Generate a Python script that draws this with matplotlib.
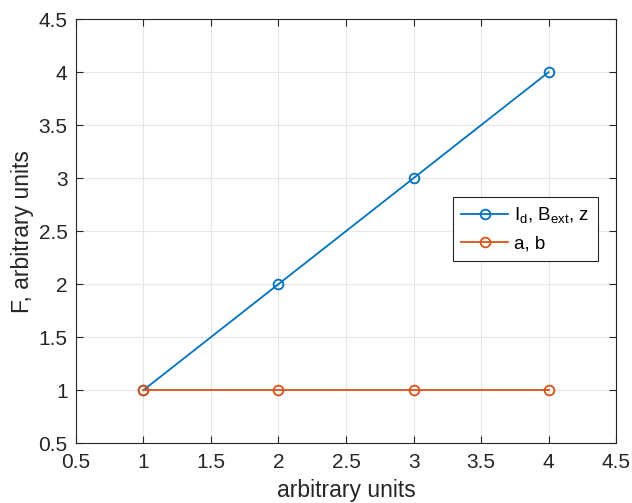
import matplotlib
matplotlib.use("Agg")
import matplotlib.pyplot as plt

x = [1, 2, 3, 4]
y_lin = [1, 2, 3, 4]
y_const = [1, 1, 1, 1]
labels = [r"I$_\mathregular{d}$, B$_\mathregular{ext}$, z", "a, b"]
ticks = [0.5, 1, 1.5, 2, 2.5, 3, 3.5, 4, 4.5]
tick_labels = ["0.5", "1", "1.5", "2", "2.5", "3", "3.5", "4", "4.5"]

plt.rcParams['font.family'] = ['Liberation Sans', 'DejaVu Sans']
plt.rcParams['mathtext.fontset'] = 'custom'
plt.rcParams['mathtext.rm'] = 'Liberation Sans'

fig = plt.figure(figsize=(6.32, 5.03), dpi=100)
ax = fig.add_axes([0.120, 0.119, 0.855, 0.843])

ax.plot(x, y_lin, '-o', color='#0072BD', lw=1.3, ms=7, mfc='none', mew=1.3, label=labels[0])
ax.plot(x, y_const, '-o', color='#D95319', lw=1.3, ms=7, mfc='none', mew=1.3, label=labels[1])

ax.set_xlim(0.5, 4.5)
ax.set_ylim(0.5, 4.5)
ax.set_xticks(ticks)
ax.set_xticklabels(tick_labels)
ax.set_yticks(ticks)
ax.set_yticklabels(tick_labels)
ax.grid(True, color='#e6e6e6', lw=0.8)
ax.set_axisbelow(True)
ax.tick_params(direction='in', length=5, width=0.8, labelsize=15, colors='#262626',
               top=True, right=True)
ax.tick_params(axis='x', pad=7)
ax.tick_params(axis='y', pad=6)
for s in ax.spines.values():
    s.set_color('#262626')
    s.set_linewidth(0.8)
ax.set_xlabel('arbitrary units', fontsize=16.5, color='#262626', labelpad=5)
ax.set_ylabel('F, arbitrary units', fontsize=16.5, color='#262626', labelpad=3)

leg = ax.legend(loc='upper left', bbox_to_anchor=(0.698, 0.58), fontsize=13.5,
                frameon=True, fancybox=False, edgecolor='#262626', framealpha=1,
                handlelength=2.5, borderpad=0.45, labelspacing=0.5, handletextpad=0.3,
                borderaxespad=0)
leg.get_frame().set_linewidth(0.8)

fig.savefig('out.png', dpi=100)
